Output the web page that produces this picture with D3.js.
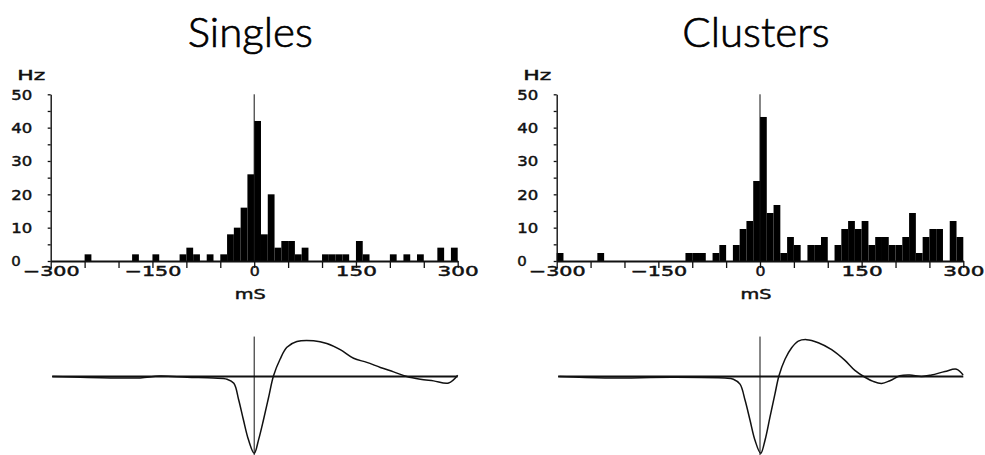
<!DOCTYPE html>
<html>
<head>
<meta charset="utf-8">
<script src="https://cdn.jsdelivr.net/npm/d3@7"></script>
<style>
  html, body { margin: 0; padding: 0; background: #fff; }
  svg { display: block; }
  .title { font-family: Lato, "Open Sans", sans-serif; font-weight: 300; font-size: 42px; fill: #000; stroke: #000; stroke-width: 0.7px; }
  .lbl { font-family: "DejaVu Sans", sans-serif; font-size: 13.5px; fill: #111; stroke: #111; stroke-width: 0.45px; }
</style>
</head>
<body>
<svg id="fig" width="985" height="455"></svg>
<script>
// Cross-correlation histograms, 10 ms bins from -300 to +300 ms (Hz)
const binEdges = d3.range(-300, 300, 10);
const singlesRate = [
  0, 0, 0, 0, 0, 2, 0, 0, 0, 0,
  0, 0, 2, 0, 0, 2, 0, 0, 0, 2,
  4, 2, 0, 2, 0, 2, 8, 10, 16, 26,
  42, 8, 20, 4, 6, 6, 2, 4, 0, 0,
  2, 2, 2, 2, 0, 6, 2, 0, 0, 0,
  2, 0, 2, 0, 2, 0, 0, 4, 0, 4
];
const clustersRate = [
  2.4, 0, 0, 0, 0, 0, 2.4, 0, 0, 0,
  0, 0, 0, 0, 0, 0, 0, 0, 0, 2.4,
  2.4, 2.4, 0, 2.4, 4.8, 0, 4.8, 9.6, 12, 24,
  43.2, 14.4, 16.8, 2.4, 7.2, 4.8, 0, 4.8, 4.8, 7.2,
  0, 4.8, 9.6, 12, 9.6, 12, 4.8, 7.2, 7.2, 4.8,
  4.8, 7.2, 14.4, 2.4, 7.2, 9.6, 9.6, 0, 12, 7.2
];

// Axis ticks and labels
const xTicks = d3.range(-300, 301, 50);
const xLabels = [-300, -150, 0, 150, 300];
const yTicks = d3.range(0, 51, 5);
const yLabels = [0, 10, 20, 30, 40, 50];

// Averaged waveforms: [time (ms), normalised amplitude]
const singlesWave = [
  [-297, 0], [-212, -0.018], [-168, -0.018], [-139, 0.005], [-99, -0.01],
  [-60, -0.02], [-40, -0.035], [-30, -0.088], [-23, -0.30], [-16, -0.56],
  [-8.4, -0.825], [0, -1.0], [6.4, -0.825], [13.8, -0.56], [21.1, -0.277],
  [28.5, 0.01], [38.3, 0.228], [48.2, 0.38], [62.9, 0.455], [87.5, 0.465],
  [107, 0.43], [126.8, 0.35], [146.5, 0.237], [166, 0.184], [186, 0.118],
  [205.5, 0.06], [225, 0.0], [244.8, -0.035], [264.5, -0.057], [286.6, -0.084],
  [300, 0.017]
];
const clustersWave = [
  [-296, 0], [-228.6, -0.02], [-130, -0.01], [-51.6, -0.02], [-39.3, -0.035],
  [-29.5, -0.1], [-22, -0.31], [-14.7, -0.57], [-7.4, -0.83], [1, -1.0],
  [7.4, -0.83], [14.7, -0.53], [22, -0.23], [28, 0.01], [36.9, 0.224],
  [46.7, 0.374], [56.5, 0.46], [68.8, 0.48], [86, 0.44], [105.7, 0.35],
  [125.4, 0.21], [140, 0.08], [154.9, -0.01], [167, -0.064], [179.4, -0.09],
  [191.7, -0.055], [206.5, 0.01], [221, 0.02], [238.5, 0], [253.2, 0.02],
  [272.9, 0.065], [290, 0.095], [299.7, 0.02]
];

const panels = [
  { title: "Singles", rate: singlesRate, wave: singlesWave, left: 50.7, right: 457.7 },
  { title: "Clusters", rate: clustersRate, wave: clustersWave, left: 556.7, right: 963.3 }
];

const svg = d3.select("#fig");
const y = d3.scaleLinear().domain([0, 50]).range([261, 94.3]);
const yW = d3.scaleLinear().domain([-1, 0.5]).range([453.3, 453.3 - 1.5 * 76.8]);

const fmt = d => (d < 0 ? "\u2212" + Math.abs(d) : String(d));

panels.forEach(p => {
  const x = d3.scaleLinear().domain([-300, 300]).range([p.left, p.right]);
  const g = svg.append("g");

  // title
  g.append("text").attr("class", "title")
    .attr("x", x(0) - 4).attr("y", 46.5)
    .attr("text-anchor", "middle").text(p.title);

  // histogram bars
  g.append("g").selectAll("rect")
    .data(binEdges.map((b, i) => ({ b, v: p.rate[i] })).filter(d => d.v > 0))
    .join("rect")
    .attr("x", d => x(d.b))
    .attr("width", d => x(d.b + 10) - x(d.b))
    .attr("y", d => y(d.v))
    .attr("height", d => y(0) - y(d.v))
    .attr("fill", "#000");

  // zero-lag marker
  g.append("line")
    .attr("x1", x(0)).attr("x2", x(0))
    .attr("y1", y(50)).attr("y2", y(0))
    .attr("stroke", "#111").attr("stroke-width", 1);

  // x axis
  const xa = g.append("g").attr("transform", `translate(0,${y(0)})`)
    .call(d3.axisBottom(x).tickValues(xTicks).tickSize(7).tickSizeOuter(0)
      .tickFormat(d => xLabels.includes(d) ? fmt(d) : ""));
  xa.select(".domain").attr("stroke", "#111").attr("stroke-width", 2);
  xa.selectAll(".tick line").attr("stroke", "#111").attr("stroke-width", 1.3);
  xa.selectAll(".tick text")
    .attr("class", "lbl")
    .attr("y", 15).attr("dy", null)
    .each(function () {
      const t = d3.select(this).text();
      if (t.length) {
        d3.select(this).attr("textLength", 10 + (t.length - 1) * 15.6)
          .attr("lengthAdjust", "spacingAndGlyphs");
      }
    });
  xa.attr("font-family", null).attr("font-size", null);

  // y axis
  const ya = g.append("g").attr("transform", `translate(${x(-300)},0)`)
    .call(d3.axisLeft(y).tickValues(yTicks).tickSize(3).tickSizeOuter(0)
      .tickFormat(d => yLabels.includes(d) ? String(d) : ""));
  ya.select(".domain").attr("stroke", "#111").attr("stroke-width", 1.4);
  ya.selectAll(".tick line").attr("stroke", "#111").attr("stroke-width", 1.3);
  ya.selectAll(".tick text")
    .attr("class", "lbl").attr("text-anchor", "start")
    .attr("x", -39.5).attr("dy", "0.36em")
    .each(function () {
      const t = d3.select(this).text();
      if (t.length) {
        d3.select(this).attr("textLength", 9.5 + (t.length - 1) * 11.5)
          .attr("lengthAdjust", "spacingAndGlyphs");
      }
    });
  ya.attr("font-family", null).attr("font-size", null);

  // unit labels
  g.append("text").attr("class", "lbl")
    .attr("x", x(-300) - 33.5).attr("y", 80)
    .attr("textLength", 28).attr("lengthAdjust", "spacingAndGlyphs")
    .text("Hz");
  g.append("text").attr("class", "lbl")
    .attr("x", x(0) - 4).attr("y", 298.5).attr("text-anchor", "middle")
    .attr("textLength", 31).attr("lengthAdjust", "spacingAndGlyphs")
    .text("mS");

  // waveform baseline and zero marker
  g.append("line")
    .attr("x1", x(-298)).attr("x2", x(300))
    .attr("y1", yW(0)).attr("y2", yW(0))
    .attr("stroke", "#111").attr("stroke-width", 1.8);
  g.append("line")
    .attr("x1", x(0)).attr("x2", x(0))
    .attr("y1", yW(0.52)).attr("y2", yW(-1.05))
    .attr("stroke", "#111").attr("stroke-width", 1);

  // waveform
  const line = d3.line().x(d => x(d[0])).y(d => yW(d[1])).curve(d3.curveCatmullRom.alpha(0.5));
  g.append("path").datum(p.wave)
    .attr("d", line).attr("fill", "none")
    .attr("stroke", "#111").attr("stroke-width", 1.5)
    .attr("stroke-linejoin", "round");
});
</script>
</body>
</html>
